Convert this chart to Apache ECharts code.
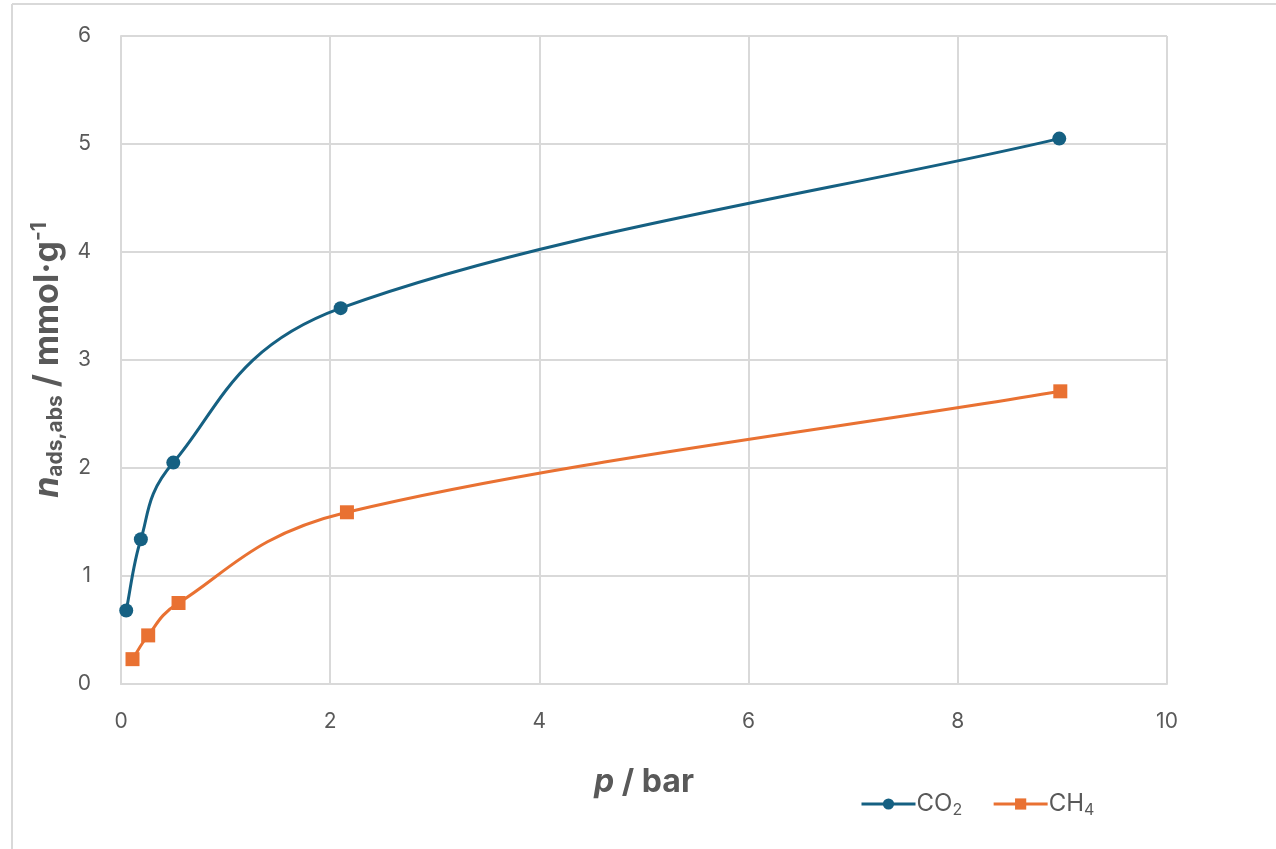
<!DOCTYPE html>
<html>
<head>
<meta charset="utf-8">
<script src="https://cdn.jsdelivr.net/npm/echarts@6/dist/echarts.min.js"></script>
<style>
  html, body { margin: 0; padding: 0; background: #ffffff; }
  #chart { width: 1276px; height: 849px; }
</style>
</head>
<body>
<div id="chart"></div>
<script>
// Adsorption isotherms: pressure (bar) vs absolute adsorbed amount (mmol/g)
const co2Pressure = [0.05, 0.19, 0.50, 2.10, 8.97];
const co2Uptake   = [0.68, 1.34, 2.05, 3.48, 5.05];
const ch4Pressure = [0.11, 0.26, 0.55, 2.16, 8.98];
const ch4Uptake   = [0.23, 0.45, 0.75, 1.59, 2.71];

const xTicks = [0, 2, 4, 6, 8, 10];
const yTicks = [0, 1, 2, 3, 4, 5, 6];

const textColor = '#595959';
const gridColor = '#d9d9d9';
const co2Color = '#156082';
const ch4Color = '#E97132';
const fontFamily = 'Inter, "Liberation Sans", Arial, sans-serif';

const pairs = (xs, ys) => xs.map((x, i) => [x, ys[i]]);
const co2Points = pairs(co2Pressure, co2Uptake);
const ch4Points = pairs(ch4Pressure, ch4Uptake);

// Smoothed connector: one cubic Bezier per segment with Catmull-Rom
// tangents (neighbour difference / 6); each handle is kept between 0.3
// and 0.5 of the segment chord so uneven spacing stays smooth.
function unit(dx, dy) {
  const len = Math.hypot(dx, dy) || 1;
  return [dx / len, dy / len, len];
}
function clamp(v, lo, hi) {
  return Math.max(lo, Math.min(hi, v));
}
function curveRenderer(points, color) {
  return function (params, api) {
    const i = params.dataIndex;
    if (i >= points.length - 1) return null;
    const p0 = api.coord(points[Math.max(i - 1, 0)]);
    const p1 = api.coord(points[i]);
    const p2 = api.coord(points[i + 1]);
    const p3 = api.coord(points[Math.min(i + 2, points.length - 1)]);
    const chord = Math.hypot(p2[0] - p1[0], p2[1] - p1[1]);
    const t1 = unit(p2[0] - p0[0], p2[1] - p0[1]);
    const t2 = unit(p3[0] - p1[0], p3[1] - p1[1]);
    const h1 = clamp(t1[2] / 6, 0.3 * chord, 0.5 * chord);
    const h2 = clamp(t2[2] / 6, 0.3 * chord, 0.5 * chord);
    return {
      type: 'bezierCurve',
      shape: {
        x1: p1[0], y1: p1[1],
        x2: p2[0], y2: p2[1],
        cpx1: p1[0] + t1[0] * h1,
        cpy1: p1[1] + t1[1] * h1,
        cpx2: p2[0] - t2[0] * h2,
        cpy2: p2[1] - t2[1] * h2
      },
      style: { stroke: color, lineWidth: 3, fill: null }
    };
  };
}

const chart = echarts.init(document.getElementById('chart'), null, { renderer: 'canvas' });

chart.setOption({
  animation: false,
  backgroundColor: '#ffffff',
  textStyle: { fontFamily: fontFamily },
  graphic: [
    { type: 'line', shape: { x1: 12, y1: 4, x2: 12, y2: 849 }, style: { stroke: gridColor, lineWidth: 2 } },
    { type: 'line', shape: { x1: 12, y1: 4, x2: 1276, y2: 4 }, style: { stroke: gridColor, lineWidth: 2 } }
  ],
  grid: { left: 121, right: 109, top: 36, bottom: 165, containLabel: false },
  xAxis: {
    type: 'value',
    min: xTicks[0],
    max: xTicks[xTicks.length - 1],
    interval: 2,
    name: '{i|p}{b| / bar}',
    nameLocation: 'middle',
    nameGap: 82,
    nameTextStyle: {
      rich: {
        i: { fontSize: 32, fontWeight: 'bold', fontStyle: 'italic', color: textColor, fontFamily: fontFamily },
        b: { fontSize: 32, fontWeight: 'bold', color: textColor, fontFamily: fontFamily }
      }
    },
    axisLine: { show: true, lineStyle: { color: gridColor, width: 2 } },
    axisTick: { show: false },
    axisLabel: { color: textColor, fontSize: 21, margin: 27, fontFamily: fontFamily },
    splitLine: { show: true, lineStyle: { color: gridColor, width: 2 } }
  },
  yAxis: {
    type: 'value',
    min: yTicks[0],
    max: yTicks[yTicks.length - 1],
    interval: 1,
    name: '{i|n}{sub|ads,abs}{b| / mmol·g}{sup|-1}',
    nameLocation: 'middle',
    nameGap: 52,
    nameRotate: 90,
    nameTextStyle: {
      rich: {
        i: { fontSize: 34, fontWeight: 'bold', fontStyle: 'italic', color: textColor, fontFamily: fontFamily },
        sub: { fontSize: 21, fontWeight: 'bold', color: textColor, fontFamily: fontFamily, padding: [16, 0, 0, 0] },
        b: { fontSize: 34, fontWeight: 'bold', color: textColor, fontFamily: fontFamily },
        sup: { fontSize: 21, fontWeight: 'bold', color: textColor, fontFamily: fontFamily, padding: [0, 0, 16, 0] }
      }
    },
    axisLine: { show: true, lineStyle: { color: gridColor, width: 2 } },
    axisTick: { show: false },
    axisLabel: { color: textColor, fontSize: 21, margin: 30, fontFamily: fontFamily },
    splitLine: { show: true, lineStyle: { color: gridColor, width: 2 } }
  },
  legend: {
    left: 855,
    top: 787,
    itemWidth: 54,
    itemHeight: 14,
    itemGap: 30,
    data: ['CO2', 'CH4'],
    lineStyle: { width: 3, opacity: 1 },
    formatter: function (name) {
      return name === 'CO2' ? '{a|CO}{s|2}' : '{a|CH}{s|4}';
    },
    textStyle: {
      padding: [0, 0, 0, -4],
      rich: {
        a: { fontSize: 24, color: textColor, fontFamily: fontFamily },
        s: { fontSize: 16, color: textColor, fontFamily: fontFamily, padding: [12, 0, 0, 0] }
      }
    }
  },
  series: [
    {
      name: 'CO2',
      type: 'line',
      data: co2Points,
      symbol: 'circle',
      symbolSize: 14,
      color: co2Color,
      lineStyle: { width: 3, color: co2Color, opacity: 0 },
      itemStyle: { color: co2Color },
      z: 3
    },
    {
      name: 'CH4',
      type: 'line',
      data: ch4Points,
      symbol: 'rect',
      symbolSize: 14,
      color: ch4Color,
      lineStyle: { width: 3, color: ch4Color, opacity: 0 },
      itemStyle: { color: ch4Color },
      z: 3
    },
    {
      name: 'CO2',
      type: 'custom',
      data: co2Points,
      renderItem: curveRenderer(co2Points, co2Color),
      z: 2,
      silent: true
    },
    {
      name: 'CH4',
      type: 'custom',
      data: ch4Points,
      renderItem: curveRenderer(ch4Points, ch4Color),
      z: 2,
      silent: true
    }
  ]
});
</script>
</body>
</html>
